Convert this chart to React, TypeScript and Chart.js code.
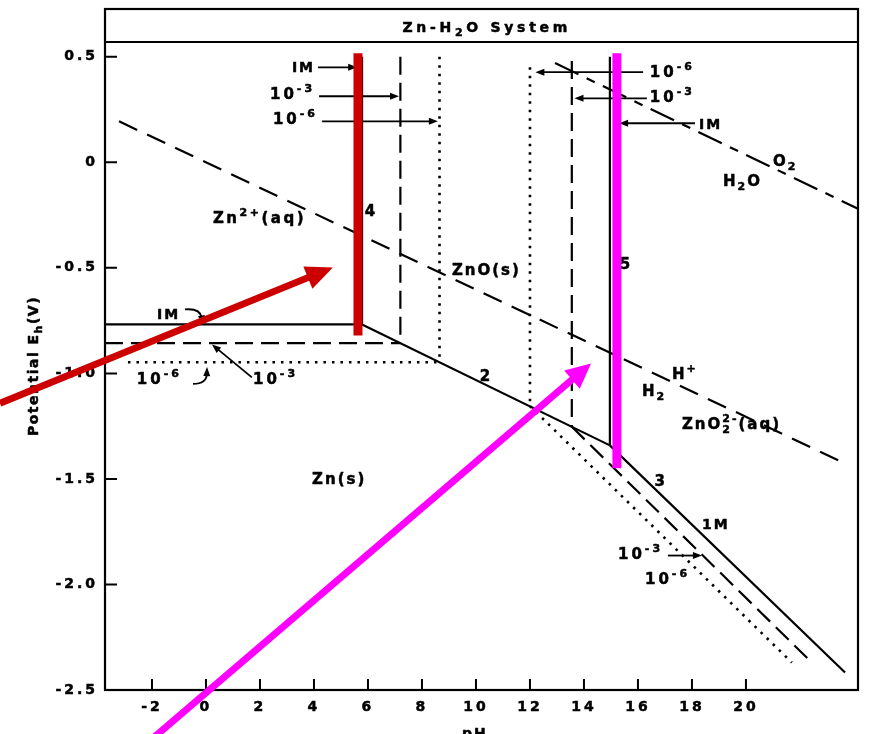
import { useEffect, useRef } from "react";
import { Chart, registerables } from "chart.js";

Chart.register(...registerables);

type Pt = [number, number];
type Seg = { t: string; k?: "sup" | "sub" | "subsup"; t2?: string };
type Align = "left" | "right" | "center";

const FONT_FAMILY = "'DejaVu Sans', 'Liberation Sans', Arial, sans-serif";

// ---------- axes ----------
const xTickValues = [-2, 0, 2, 4, 6, 8, 10, 12, 14, 16, 18, 20];
const yTickValues = [0.5, 0, -0.5, -1.0, -1.5, -2.0, -2.5];
const yTickLabels = ["0.5", "0", "-0.5", "-1.0", "-1.5", "-2.0", "-2.5"];
const xLimits: Pt = [-3.74, 24.15];
const yLimits: Pt = [-2.5, 0.57];

// ---------- water stability lines ----------
const h2Line: Pt[] = [[-3.22, 0.194], [23.67, -1.427]];
const o2Line: Pt[] = [[12.93, 0.47], [24.15, -0.22]];

// ---------- Zn2+ / Zn(s) (horizontal) ----------
const zn2ZnHoriz1M: Pt[] = [[-3.74, -0.768], [5.78, -0.768]];
const zn2ZnHoriz1e3: Pt[] = [[-3.74, -0.857], [7.2, -0.857]];
const zn2ZnHoriz1e6: Pt[] = [[-2.89, -0.947], [8.65, -0.947]];

// ---------- Zn2+ / ZnO (line 4, vertical) ----------
const zn2ZnoVert1M: Pt[] = [[5.78, 0.5], [5.78, -0.768]];
const zn2ZnoVert1e3: Pt[] = [[7.2, 0.5], [7.2, -0.857]];
const zn2ZnoVert1e6: Pt[] = [[8.65, 0.5], [8.65, -0.947]];

// ---------- ZnO / Zn (line 2) ----------
const znoZnLine: Pt[] = [[5.78, -0.768], [14.96, -1.341]];

// ---------- ZnO / ZnO2 2- (line 5, vertical) ----------
const znoZno2Vert1M: Pt[] = [[14.96, 0.5], [14.96, -1.341]];
const znoZno2Vert1e3: Pt[] = [[13.55, 0.48], [13.55, -1.253]];
const znoZno2Vert1e6: Pt[] = [[12.0, 0.45], [12.0, -1.155]];

// ---------- ZnO2 2- / Zn (line 3) ----------
const zno2ZnLine1M: Pt[] = [[14.96, -1.341], [23.67, -2.417]];
const zno2ZnLine1e3: Pt[] = [[13.55, -1.253], [22.44, -2.37]];
const zno2ZnLine1e6: Pt[] = [[12.0, -1.155], [21.7, -2.37]];

// ---------- highlight overlays ----------
const redBar: Pt[] = [[5.63, 0.517], [5.63, -0.82]];
const magentaBar: Pt[] = [[15.22, 0.517], [15.22, -1.45]];
const redPointer: Pt[] = [[-7.63, -1.142], [4.7, -0.498]];
const magentaPointer: Pt[] = [[-2.07, -2.74], [14.26, -0.953]];

// ---------- leader arrows (from -> to, optional curve control) ----------
const leaderArrows: { from: Pt; to: Pt; via?: Pt }[] = [
  { from: [4.15, 0.45], to: [5.6, 0.45] },
  { from: [4.19, 0.313], to: [7.15, 0.313] },
  { from: [4.3, 0.194], to: [8.59, 0.194] },
  { from: [16.19, 0.427], to: [12.2, 0.427] },
  { from: [16.33, 0.303], to: [13.65, 0.303] },
  { from: [18.11, 0.185], to: [15.3, 0.185] },
  { from: [-0.78, -0.697], via: [-0.22, -0.69], to: [-0.11, -0.768] },
  { from: [-0.48, -1.05], via: [0.02, -1.05], to: [0.04, -0.97] },
  { from: [1.7, -1.019], to: [0.22, -0.863] },
  { from: [17.11, -1.863], to: [18.37, -1.863] },
];

// ---------- text annotations ----------
const sup = (t: string): Seg => ({ t, k: "sup" });
const sub = (t: string): Seg => ({ t, k: "sub" });
const conc3: Seg[] = [{ t: "10" }, sup("-3")];
const conc6: Seg[] = [{ t: "10" }, sup("-6")];

const textLabels: { at: Pt; segs: Seg[]; align: Align; size: number; spacing: number }[] = [
  { at: [4.04, 0.45], segs: [{ t: "IM" }], align: "right", size: 14, spacing: 2 },
  { at: [4.04, 0.327], segs: conc3, align: "right", size: 15, spacing: 3 },
  { at: [4.15, 0.209], segs: conc6, align: "right", size: 15, spacing: 3 },
  { at: [16.44, 0.431], segs: conc6, align: "left", size: 15, spacing: 3 },
  { at: [16.44, 0.313], segs: conc3, align: "left", size: 15, spacing: 3 },
  { at: [18.26, 0.18], segs: [{ t: "IM" }], align: "left", size: 14, spacing: 2 },
  { at: [0.26, -0.261], segs: [{ t: "Zn" }, sup("2+"), { t: "(aq)" }], align: "left", size: 15, spacing: 2.5 },
  { at: [6.07, -0.227], segs: [{ t: "4" }], align: "center", size: 15, spacing: 0 },
  { at: [9.11, -0.507], segs: [{ t: "ZnO(s)" }], align: "left", size: 15, spacing: 2 },
  { at: [15.52, -0.479], segs: [{ t: "5" }], align: "center", size: 15, spacing: 0 },
  { at: [10.33, -1.009], segs: [{ t: "2" }], align: "center", size: 15, spacing: 0 },
  { at: [3.93, -1.498], segs: [{ t: "Zn(s)" }], align: "left", size: 15, spacing: 2 },
  { at: [17.26, -1.0], segs: [{ t: "H" }, sup("+")], align: "left", size: 15, spacing: 2 },
  { at: [16.15, -1.081], segs: [{ t: "H" }, sub("2")], align: "left", size: 15, spacing: 2 },
  { at: [17.63, -1.237], segs: [{ t: "ZnO" }, { t: "2", k: "subsup", t2: "2-" }, { t: "(aq)" }], align: "left", size: 15, spacing: 2 },
  { at: [21.0, 0.009], segs: [{ t: "O" }, sub("2")], align: "left", size: 15, spacing: 2 },
  { at: [19.15, -0.085], segs: [{ t: "H" }, sub("2"), { t: "O" }], align: "left", size: 15, spacing: 2 },
  { at: [-1.81, -0.716], segs: [{ t: "IM" }], align: "left", size: 14, spacing: 2 },
  { at: [-2.56, -1.024], segs: conc6, align: "left", size: 15, spacing: 3 },
  { at: [1.74, -1.024], segs: conc3, align: "left", size: 15, spacing: 3 },
  { at: [16.81, -1.507], segs: [{ t: "3" }], align: "center", size: 15, spacing: 0 },
  { at: [18.37, -1.711], segs: [{ t: "1M" }], align: "left", size: 14, spacing: 2 },
  { at: [15.26, -1.853], segs: conc3, align: "left", size: 15, spacing: 3 },
  { at: [16.26, -1.972], segs: conc6, align: "left", size: 15, spacing: 3 },
];

const chartTitle: Seg[] = [{ t: "Zn-H" }, sub("2"), { t: "O System" }];
const titleCenterX = 10.4;
const yAxisTitle: Seg[] = [{ t: "Potential E" }, sub("h"), { t: "(V)" }];
const xAxisTitle: Seg[] = [{ t: "pH" }];
const xAxisTitleX = 9.96;

function drawRich(
  ctx: CanvasRenderingContext2D,
  segs: Seg[],
  x: number,
  yMid: number,
  size: number,
  align: Align,
  spacing: number
) {
  ctx.save();
  (ctx as any).letterSpacing = spacing + "px";
  ctx.fillStyle = "#000";
  ctx.strokeStyle = "#000";
  ctx.lineWidth = 0.5;
  ctx.lineJoin = "round";
  ctx.textBaseline = "alphabetic";
  ctx.textAlign = "left";
  const small = Math.round(size * 0.75);
  const f = (s: number) => `bold ${s}px ${FONT_FAMILY}`;
  const widths = segs.map((s) => {
    if (!s.k) {
      ctx.font = f(size);
      return ctx.measureText(s.t).width;
    }
    ctx.font = f(small);
    if (s.k === "subsup") return Math.max(ctx.measureText(s.t).width, ctx.measureText(s.t2 || "").width);
    return ctx.measureText(s.t).width;
  });
  const total = widths.reduce((a, b) => a + b, 0);
  let cx = align === "left" ? x : align === "right" ? x - total : x - total / 2;
  const base = yMid + size * 0.365;
  const put = (t: string, px: number, py: number) => {
    ctx.strokeText(t, px, py);
    ctx.fillText(t, px, py);
  };
  segs.forEach((s, i) => {
    if (!s.k) {
      ctx.font = f(size);
      put(s.t, cx, base);
    } else {
      ctx.font = f(small);
      if (s.k === "sup") put(s.t, cx, base - size * 0.45);
      else if (s.k === "sub") put(s.t, cx, base + size * 0.3);
      else {
        put(s.t, cx, base + size * 0.3);
        put(s.t2 || "", cx, base - size * 0.45);
      }
    }
    cx += widths[i];
  });
  ctx.restore();
}

function drawArrow(
  ctx: CanvasRenderingContext2D,
  pts: [number, number][],
  color: string,
  width: number,
  headLen: number,
  headHalf: number
) {
  const n = pts.length;
  const [x1, y1] = pts[n - 1];
  const [xp, yp] = pts[n - 2];
  const ang = Math.atan2(y1 - yp, x1 - xp);
  const bx = x1 - Math.cos(ang) * headLen;
  const by = y1 - Math.sin(ang) * headLen;
  ctx.save();
  ctx.strokeStyle = color;
  ctx.fillStyle = color;
  ctx.lineWidth = width;
  ctx.lineCap = "butt";
  ctx.beginPath();
  ctx.moveTo(pts[0][0], pts[0][1]);
  const ex = bx + Math.cos(ang) * 2;
  const ey = by + Math.sin(ang) * 2;
  if (n === 3) ctx.quadraticCurveTo(pts[1][0], pts[1][1], ex, ey);
  else ctx.lineTo(ex, ey);
  ctx.stroke();
  ctx.beginPath();
  ctx.moveTo(x1, y1);
  ctx.lineTo(bx + Math.sin(ang) * headHalf, by - Math.cos(ang) * headHalf);
  ctx.lineTo(bx - Math.sin(ang) * headHalf, by + Math.cos(ang) * headHalf);
  ctx.closePath();
  ctx.fill();
  ctx.restore();
}

const decorPlugin = {
  id: "decor",
  beforeDraw(chart: any) {
    chart.ctx.letterSpacing = "3px";
  },
  beforeDatasetsDraw(chart: any) {
    const ctx: CanvasRenderingContext2D = chart.ctx;
    const { left, right, top, bottom } = chart.chartArea;
    const xs = chart.scales.x;
    const ys = chart.scales.y;
    const P = (p: Pt): [number, number] => [xs.getPixelForValue(p[0]), ys.getPixelForValue(p[1])];

    ctx.save();
    ctx.strokeStyle = "#000";
    ctx.lineWidth = 2.2;
    // frame + title box
    const boxTop = top - 33;
    ctx.strokeRect(left, boxTop, right - left, bottom - boxTop);
    ctx.beginPath();
    ctx.moveTo(left, top);
    ctx.lineTo(right, top);
    ctx.stroke();
    // inward ticks
    ctx.lineWidth = 2;
    ctx.beginPath();
    yTickValues.forEach((v) => {
      const y = ys.getPixelForValue(v);
      ctx.moveTo(left, y);
      ctx.lineTo(left + 12, y);
    });
    xTickValues.forEach((v) => {
      const x = xs.getPixelForValue(v);
      ctx.moveTo(x, bottom);
      ctx.lineTo(x, bottom - 11);
    });
    ctx.stroke();
    ctx.restore();

    // title
    drawRich(ctx, chartTitle, xs.getPixelForValue(titleCenterX), top - 15, 14, "center", 3.7);
    // axis titles
    drawRich(ctx, xAxisTitle, xs.getPixelForValue(xAxisTitleX), bottom + 43, 14, "center", 2);
    ctx.save();
    ctx.translate(33, (top + bottom) / 2);
    ctx.rotate(-Math.PI / 2);
    drawRich(ctx, yAxisTitle, 0, 0, 14, "center", 1.5);
    ctx.restore();

    // labels
    textLabels.forEach((l) => {
      const [x, y] = P(l.at);
      drawRich(ctx, l.segs, x, y, l.size, l.align, l.spacing);
    });
    // leader arrows
    leaderArrows.forEach((a) => {
      const pts = a.via ? [P(a.from), P(a.via), P(a.to)] : [P(a.from), P(a.to)];
      drawArrow(ctx, pts, "#000", 1.8, 9, 3.5);
    });
  },
  afterDatasetsDraw(chart: any) {
    const ctx: CanvasRenderingContext2D = chart.ctx;
    const xs = chart.scales.x;
    const ys = chart.scales.y;
    const P = (p: Pt): [number, number] => [xs.getPixelForValue(p[0]), ys.getPixelForValue(p[1])];
    drawArrow(ctx, redPointer.map(P), "#cc0000", 7, 27, 12);
    drawArrow(ctx, magentaPointer.map(P), "#ff00ff", 7, 25, 12);
  },
};

export default function App() {
  const canvasRef = useRef<HTMLCanvasElement | null>(null);

  useEffect(() => {
    const canvas = canvasRef.current;
    if (!canvas) return;
    const toXY = (pts: Pt[]) => pts.map(([x, y]) => ({ x, y }));
    const DASH = [18, 8];
    const DOT = [2.5, 6];
    const SOLID: number[] = [];
    const ds = (pts: Pt[], dash: number[], width = 2.2, color = "#000", order = 0) => ({
      data: toXY(pts),
      showLine: true,
      borderColor: color,
      backgroundColor: color,
      borderWidth: width,
      borderDash: dash,
      borderCapStyle: "butt" as const,
      pointRadius: 0,
      pointHoverRadius: 0,
      fill: false,
      tension: 0,
      order,
      clip: false as const,
    });

    const datasets: any[] = [
      ds(redBar, SOLID, 9, "#cc0000", -1),
      ds(magentaBar, SOLID, 9, "#ff00ff", -1),
      ds(h2Line, [20, 11]),
      ds(o2Line, [26, 9, 9, 9]),
      ds(zn2ZnHoriz1M, SOLID),
      ds(zn2ZnHoriz1e3, DASH),
      ds(zn2ZnHoriz1e6, DOT, 2.6),
      ds(zn2ZnoVert1M, SOLID),
      ds(zn2ZnoVert1e3, DASH),
      ds(zn2ZnoVert1e6, DOT, 2.6),
      ds(znoZnLine, SOLID),
      ds(znoZno2Vert1M, SOLID),
      ds(znoZno2Vert1e3, DASH),
      ds(znoZno2Vert1e6, DOT, 2.6),
      ds(zno2ZnLine1M, SOLID),
      ds(zno2ZnLine1e3, DASH),
      ds(zno2ZnLine1e6, DOT, 2.6),
    ];

    const tickFont = { family: FONT_FAMILY, size: 14, weight: "bold" as const };

    const chart = new Chart(canvas, {
      type: "scatter",
      data: { datasets },
      options: {
        responsive: false,
        animation: false,
        events: [],
        layout: { padding: { left: 0, right: 14, top: 42, bottom: 0 } },
        plugins: {
          legend: { display: false },
          tooltip: { enabled: false },
          title: { display: false },
        },
        scales: {
          x: {
            type: "linear",
            min: xLimits[0],
            max: xLimits[1],
            grid: { display: false, drawTicks: false },
            border: { display: false },
            afterBuildTicks: (s: any) => {
              s.ticks = xTickValues.map((v) => ({ value: v }));
            },
            afterFit: (s: any) => {
              s.height = 44;
            },
            ticks: {
              padding: 9,
              color: "#000",
              font: tickFont,
              textStrokeColor: "#000",
              textStrokeWidth: 0.5,
              autoSkip: false,
              maxRotation: 0,
              callback: (v: any) => String(v),
            },
          },
          y: {
            type: "linear",
            min: yLimits[0],
            max: yLimits[1],
            grid: { display: false, drawTicks: false },
            border: { display: false },
            afterBuildTicks: (s: any) => {
              s.ticks = yTickValues.map((v) => ({ value: v }));
            },
            afterFit: (s: any) => {
              s.width = 105;
            },
            ticks: {
              padding: 7,
              color: "#000",
              font: tickFont,
              textStrokeColor: "#000",
              textStrokeWidth: 0.5,
              autoSkip: false,
              callback: (v: any) => {
                const i = yTickValues.findIndex((t) => Math.abs(t - Number(v)) < 1e-9);
                return i >= 0 ? yTickLabels[i] : "";
              },
            },
          },
        },
      },
      plugins: [decorPlugin as any],
    });

    return () => chart.destroy();
  }, []);

  return (
    <canvas
      ref={canvasRef}
      width={872}
      height={734}
      style={{ position: "fixed", left: 0, top: 0, width: 872, height: 734, display: "block", background: "#fff" }}
    />
  );
}
